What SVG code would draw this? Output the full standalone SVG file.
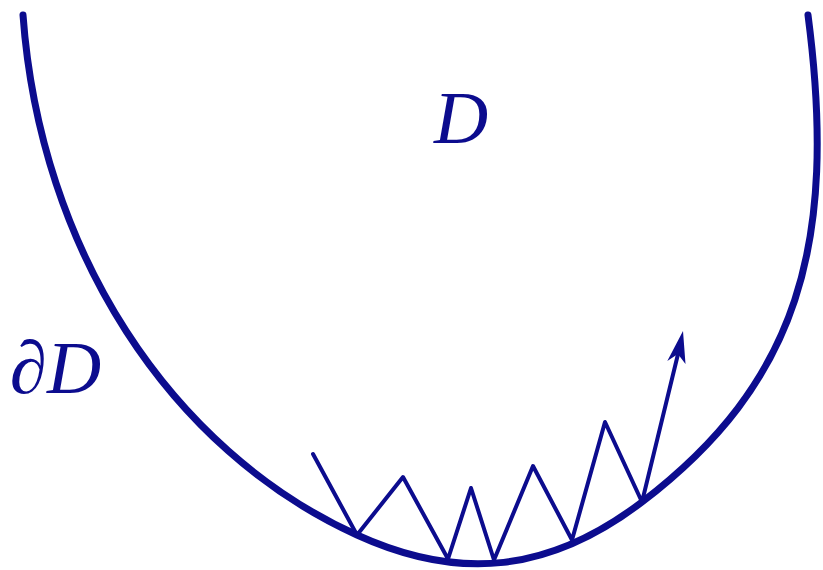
<svg xmlns="http://www.w3.org/2000/svg" width="823" height="570" viewBox="0 0 823 570">
<style>
.c{fill:none;stroke:#0c0c8e;stroke-linecap:round;stroke-linejoin:round}
.t{font-family:"Liberation Serif","DejaVu Serif",serif;font-style:italic;fill:#0c0c8e}
</style>
<rect width="823" height="570" fill="#fff"/>
<g id="boundary">
<path class="c" stroke-width="7" d="M23,15 C40,250 170,450 357,535 C460,582 550,572 642,502 C798,383 838,245 808,15"/>
</g>
<g id="labels">
<text class="t" x="434" y="143" font-size="75">D</text>
<text class="t" x="10" y="393" font-size="75">∂D</text>
</g>
<g id="connectors">
<polyline class="c" stroke-width="4" points="313,454 357,535 403,477 448,559 471,488 494,560 533,466 572,540 605,422 642,502 679,350"/>
<polygon fill="#0c0c8e" points="683,331 667.3,361 677.9,354 685.5,364"/>
</g>
</svg>
